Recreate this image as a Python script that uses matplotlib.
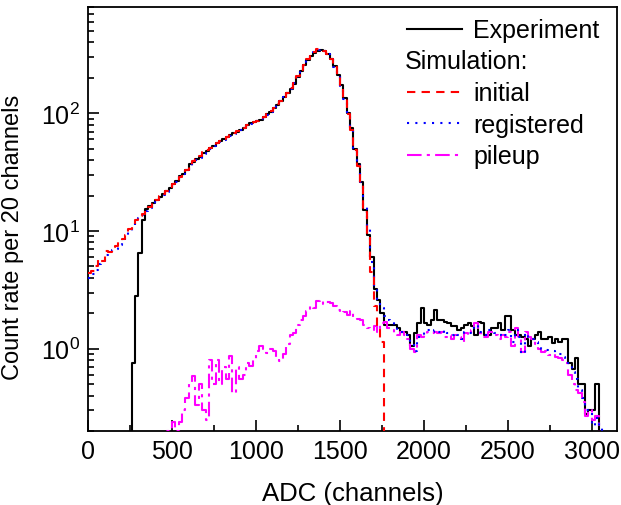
import numpy as np
import matplotlib
matplotlib.use('Agg')
import matplotlib.pyplot as plt
from matplotlib.ticker import MultipleLocator, LogLocator, NullFormatter, FixedLocator, FixedFormatter

plt.rcParams['font.family'] = ['Liberation Sans', 'DejaVu Sans']
plt.rcParams['mathtext.fontset'] = 'custom'
plt.rcParams['mathtext.rm'] = 'Liberation Sans'
plt.rcParams['mathtext.default'] = 'regular'

# spectra, 20-channel bins, left edge of first bin at 0
bin_width = 20

experiment = [
    0, 0, 0, 0, 0, 0, 0, 0, 0, 0,                              # 0
    0, 0, 0, 0.75, 2.8, 6.5, 12.3, 15.4, 16.2, 17.3,            # 200
    18.3, 19.6, 20.5, 22.0, 23.1, 25.0, 26.5, 29.5, 30.5, 33.0,  # 400
    37.0, 38.5, 41.0, 42.5, 46.0, 48.0, 51.0, 53.0, 56.0, 58.0,  # 600
    60.0, 63.0, 66.0, 67.5, 70.0, 72.0, 75.0, 79.0, 83.0, 84.0,  # 800
    86.0, 88.0, 93.0, 98.0, 102.0, 110.0, 118.0, 127.0, 137.0, 148.0,  # 1000
    162.0, 178.0, 205.0, 228.0, 255.0, 285.0, 305.0, 325.0, 340.0, 345.0,  # 1200
    335.0, 318.0, 290.0, 250.0, 210.0, 175.0, 135.0, 100.0, 75.0, 50.0,  # 1400
    37.0, 26.0, 15.0, 9.3, 6.0, 3.2, 2.6, 2.0, 1.6, 1.6,        # 1600
    1.6, 1.6, 1.5, 1.4, 1.4, 1.3, 1.05, 1.35, 1.65, 2.2,        # 1800
    1.65, 1.6, 1.75, 2.15, 1.75, 1.75, 1.7, 1.65, 1.55, 1.55,   # 2000
    1.45, 1.5, 1.6, 1.65, 1.55, 1.3, 1.7, 1.65, 1.3, 1.3,       # 2200
    1.5, 1.5, 1.65, 1.45, 1.9, 1.9, 1.45, 1.3, 1.3, 1.25,       # 2400
    1.2, 1.05, 1.22, 1.32, 1.4, 1.22, 1.22, 1.27, 1.12, 1.22,   # 2600
    1.15, 1.22, 1.22, 0.76, 0.67, 0.84, 0.5, 0.5, 0.28, 0.3,    # 2800
    0.3, 0.5, 0, 0, 0, 0, 0,                                    # 3000
]

sim_initial = [
    4.4, 4.6, 5.0, 5.8, 5.6, 6.8, 6.6, 7.3, 7.4, 8.0,
    8.6, 9.3, 10.5, 11.2, 12.5, 13.3, 14.0, 15.0, 16.0, 17.0,
    18.5, 19.8, 20.8, 22.0, 23.5, 25.0, 26.8, 29.0, 31.0, 33.0,
    36.5, 39.0, 41.0, 43.0, 46.5, 48.5, 50.5, 53.5, 56.0, 58.5,
    61.0, 63.5, 66.0, 68.0, 70.5, 72.5, 75.5, 79.0, 82.0, 84.5,
    86.5, 89.0, 93.0, 98.0, 104.0, 111.0, 119.0, 128.0, 138.0, 150.0,
    164.0, 182.0, 207.0, 232.0, 258.0, 288.0, 310.0, 332.0, 350.0, 352.0,
    340.0, 320.0, 290.0, 248.0, 208.0, 172.0, 132.0, 98.0, 72.0, 49.0,
    36.0, 25.0, 14.5, 9.0, 4.5, 2.3, 1.5, 1.15, 0, 0,
    0, 0, 0, 0, 0, 0, 0, 0, 0, 0,
    0, 0, 0, 0, 0, 0, 0, 0, 0, 0,
    0, 0, 0, 0, 0, 0, 0, 0, 0, 0,
    0, 0, 0, 0, 0, 0, 0, 0, 0, 0,
    0, 0, 0, 0, 0, 0, 0, 0, 0, 0,
    0, 0, 0, 0, 0, 0, 0, 0, 0, 0,
    0, 0, 0, 0, 0, 0, 0,
]

sim_registered = [
    4.0, 4.3, 4.7, 5.2, 5.4, 6.2, 6.5, 6.9, 7.1, 7.6,
    8.2, 9.0, 10.0, 11.0, 12.0, 13.0, 13.8, 14.8, 15.6, 16.8,
    18.0, 19.2, 20.4, 21.5, 22.8, 24.5, 26.0, 28.5, 30.5, 32.5,
    35.5, 38.0, 40.0, 42.0, 45.0, 47.5, 50.0, 52.5, 55.0, 57.0,
    59.5, 62.0, 64.5, 67.0, 69.0, 71.5, 74.5, 78.0, 81.5, 83.5,
    85.5, 88.0, 92.0, 97.0, 103.0, 110.0, 118.0, 127.0, 137.0, 148.0,
    162.0, 180.0, 205.0, 230.0, 256.0, 286.0, 308.0, 330.0, 347.0, 350.0,
    338.0, 318.0, 288.0, 247.0, 207.0, 172.0, 132.0, 98.0, 72.0, 50.0,
    37.0, 26.0, 16.0, 10.5, 5.5, 3.3, 2.6, 2.2, 1.9, 1.75,
    1.7, 1.55, 1.45, 1.4, 1.35, 1.3, 1.15, 0.95, 1.25, 1.3,
    1.4, 1.45, 1.4, 1.45, 1.4, 1.45, 1.3, 1.35, 1.3, 1.35,
    1.3, 1.2, 1.4, 1.35, 1.5, 1.6, 1.4, 1.3, 1.3, 1.45,
    1.45, 1.35, 1.3, 1.35, 1.3, 1.45, 1.15, 1.45, 1.25, 0.9,
    1.35, 1.25, 1.2, 1.15, 1.05, 1.0, 0.98, 0.95, 0.95, 0.9,
    0.9, 0.85, 0.8, 0.75, 0.63, 0.55, 0.45, 0.38, 0.3, 0.3,
    0.22, 0.26, 0.22, 0, 0, 0, 0,
]

sim_pileup = [
    0, 0, 0, 0, 0, 0, 0, 0, 0, 0,
    0, 0, 0, 0, 0, 0, 0, 0.12, 0.19, 0.15,
    0.12, 0.1, 0.15, 0.2, 0.21, 0.24, 0.2, 0.24, 0.3, 0.38,
    0.5, 0.59, 0.33, 0.5, 0.3, 0.25, 0.8, 0.5, 0.8, 0.5,
    0.7, 0.55, 0.87, 0.42, 0.7, 0.55, 0.6, 0.75, 0.72, 0.8,
    0.95, 1.05, 1.0, 0.92, 1.0, 0.95, 0.85, 0.78, 0.9, 1.1,
    1.3, 1.35, 1.6, 1.75, 1.9, 2.1, 2.3, 2.2, 2.55, 2.6,
    2.4, 2.5, 2.45, 2.3, 2.15, 2.0, 2.05, 1.95, 2.1, 1.85,
    1.8, 1.75, 1.6, 1.5, 1.45, 1.55, 1.4, 1.65, 1.7, 1.5,
    1.45, 1.35, 1.3, 1.4, 1.3, 1.2, 1.0, 0.93, 1.3, 1.25,
    1.3, 1.4, 1.35, 1.4, 1.35, 1.4, 1.25, 1.3, 1.2, 1.3,
    1.25, 1.15, 1.35, 1.3, 1.45, 1.65, 1.35, 1.25, 1.25, 1.4,
    1.4, 1.3, 1.22, 1.3, 1.25, 1.4, 1.05, 1.5, 1.2, 0.93,
    1.4, 1.25, 1.2, 1.1, 1.0, 0.93, 0.95, 0.88, 0.9, 0.85,
    0.83, 0.8, 0.76, 0.6, 0.5, 0.45, 0.42, 0.35, 0.27, 0.3,
    0.25, 0.27, 0.15, 0, 0, 0, 0,
]


def steps(vals):
    v = np.asarray(vals, dtype=float)
    edges = np.arange(len(v) + 1) * bin_width
    return edges, np.append(v, v[-1])


fs_tick = 18
fs_leg = 18
fig = plt.figure(figsize=(6.21, 5.06), dpi=100)
ax = fig.add_axes([0.1417, 0.1462, 0.8519, 0.838])
ax.set_yscale('log', nonpositive='clip')

dashdot = (0, (7, 2.5, 1.5, 2.5))
x, y = steps(experiment)
ax.step(x, y, where='post', color='black', lw=1.5, zorder=2)
x, y = steps(sim_pileup)
ax.step(x, y, where='post', color='#ff00ff', lw=1.5, ls=dashdot, zorder=3)
x, y = steps(sim_registered)
ax.step(x, y, where='post', color='#0000ff', lw=1.5, ls=(0, (1, 3)), zorder=4)
x, y = steps(sim_initial)
ax.step(x, y, where='post', color='#ff0000', lw=1.5, ls=(0, (4, 3)), zorder=5)

exp_h = plt.Line2D([], [], color='black', lw=1.5)
ini_h = plt.Line2D([], [], color='#ff0000', lw=1.5, ls=(0, (4, 3)))
reg_h = plt.Line2D([], [], color='#0000ff', lw=1.5, ls=(0, (1, 3)))
pil_h = plt.Line2D([], [], color='#ff00ff', lw=1.5, ls=dashdot)

ax.set_xlim(0, 3150)
ax.set_ylim(0.2, 800)

ax.xaxis.set_major_locator(MultipleLocator(500))
ax.xaxis.set_minor_locator(MultipleLocator(250))
ax.yaxis.set_major_locator(FixedLocator([1, 10, 100]))
ax.yaxis.set_major_formatter(FixedFormatter(['$10^0$', '$10^1$', '$10^2$']))
ax.yaxis.set_minor_locator(LogLocator(base=10, subs=np.arange(2, 10)))
ax.yaxis.set_minor_formatter(NullFormatter())

ax.tick_params(which='both', direction='in', top=False, right=False, labelsize=fs_tick, width=1.2, pad=6)
ax.tick_params(which='major', length=8)
ax.tick_params(which='minor', length=4)
for s in ax.spines.values():
    s.set_linewidth(1.3)

ax.set_xlabel('ADC (channels)', fontsize=18.5)
ax.set_ylabel('Count rate per 20 channels', fontsize=17)
ax.xaxis.set_label_coords(0.5, -0.118)
ax.yaxis.set_label_coords(-0.121, 0.459)

blank = plt.Line2D([], [], color='none')
handles = [exp_h, blank, ini_h, reg_h, pil_h]
labels = ['Experiment', ' ', 'initial', 'registered', 'pileup']
ax.legend(handles, labels, loc='upper left', frameon=False, fontsize=fs_leg,
          handlelength=2.2, handletextpad=0.44, labelspacing=0.3,
          borderpad=0, borderaxespad=0, bbox_to_anchor=(0.603, 0.973))
ax.text(0.599, 0.873, 'Simulation:', transform=ax.transAxes, fontsize=fs_leg,
        ha='left', va='center')

fig.savefig('out.png', dpi=100)
